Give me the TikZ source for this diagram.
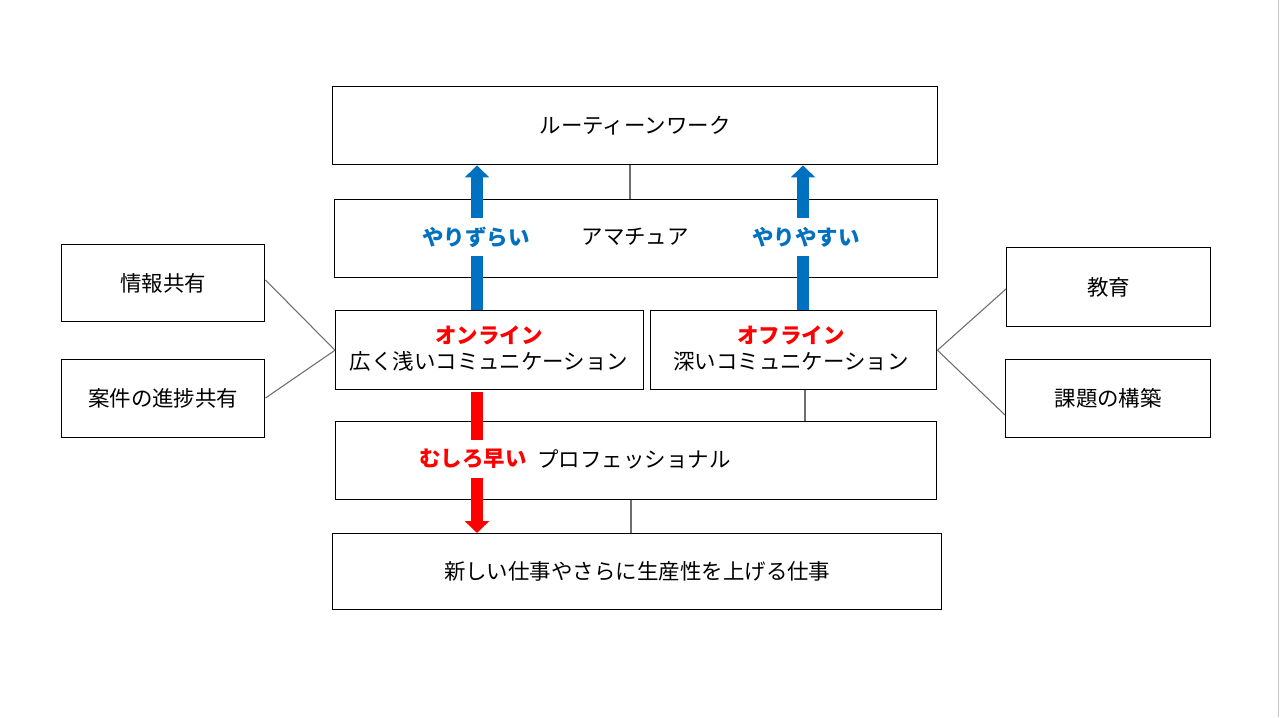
\documentclass[tikz,border=0pt]{standalone}
\usepackage{fontspec}
\setmainfont{Noto Sans CJK JP}
\usetikzlibrary{arrows.meta}
\definecolor{ablue}{HTML}{0070C0}
\definecolor{ared}{HTML}{FF0000}
\definecolor{cgray}{HTML}{6E6E6E}
\tikzset{
  box/.style={draw, line width=1.1pt, inner sep=0pt, anchor=north west, align=center, font=\fontsize{16.1}{19.5}\selectfont},
  link/.style={draw=cgray, line width=0.8pt},
  bluearr/.style={draw=ablue, line width=9pt, -{Triangle[width=18pt,length=9pt]}},
  redarr/.style={draw=ared, line width=9pt, -{Triangle[width=18pt,length=9pt]}},
  blab/.style={fill=white, inner xsep=1pt, inner ysep=6.6pt, text=ablue, font=\fontsize{16.1}{19.5}\selectfont\bfseries},
  rlab/.style={fill=white, inner xsep=1pt, inner ysep=6.6pt, text=ared, font=\fontsize{16.1}{19.5}\selectfont\bfseries},
  plain/.style={inner sep=0pt, font=\fontsize{16.1}{19.5}\selectfont}
}
\begin{document}
\begin{tikzpicture}[x=0.75pt,y=-0.75pt]
\useasboundingbox[fill=white] (0,0) rectangle (1280,717);
\draw[gray!45, line width=1.2pt] (1278.5,0) -- (1278.5,717);
% main column
\node[box, minimum width=605*0.75pt, minimum height=78*0.75pt] (b1) at (332,86) {ルーティーンワーク};
\node[box, minimum width=603*0.75pt, minimum height=78*0.75pt] (b2) at (334,199) {};
\node[box, minimum width=308*0.75pt, minimum height=79*0.75pt] (b3) at (335,310) {};
\node[box, minimum width=286*0.75pt, minimum height=79*0.75pt] (b4) at (650,310) {};
\node[box, minimum width=601*0.75pt, minimum height=78*0.75pt] (b5) at (335,421) {};
\node[box, minimum width=609*0.75pt, minimum height=76*0.75pt] (b6) at (332,533) {新しい仕事やさらに生産性を上げる仕事};
% side boxes
\node[box, minimum width=203*0.75pt, minimum height=77*0.75pt] (l1) at (61,244) {情報共有};
\node[box, minimum width=203*0.75pt, minimum height=78*0.75pt] (l2) at (61,359) {案件の進捗共有};
\node[box, minimum width=204*0.75pt, minimum height=79*0.75pt] (r1) at (1006,247) {教育};
\node[box, minimum width=205*0.75pt, minimum height=78*0.75pt] (r2) at (1005,359) {課題の構築};
% texts in boxes
\node[plain] (t2) at (635,237) {アマチュア};
\node[plain, text=ared, font=\fontsize{16.1}{19.5}\selectfont\bfseries] (t3a) at (489,335) {オンライン};
\node[plain] (t3b) at (489,361) {広く浅いコミュニケーション};
\node[plain, text=ared, font=\fontsize{16.1}{19.5}\selectfont\bfseries] (t4a) at (791,335) {オフライン};
\node[plain] (t4b) at (791,361) {深いコミュニケーション};
\node[plain] (t5) at (634,459) {プロフェッショナル};
% gray connectors
\draw[link] (b1.south -| 630,0) -- (b2.north -| 630,0);
\draw[link] (b4.south -| 805,0) -- (b5.north -| 805,0);
\draw[link] (b5.south -| 631,0) -- (b6.north -| 631,0);
\draw[link] (l1.east |- 0,280) -- (b3.west);
\draw[link] (l2.east |- 0,398) -- (b3.west);
\draw[link] (b4.east) -- (r1.west |- 0,289);
\draw[link] (b4.east) -- (r2.west |- 0,415);
% arrows
\draw[bluearr] (b3.north -| 477,0) -- (b1.south -| 477,0);
\draw[bluearr] (b4.north -| 803,0) -- (b1.south -| 803,0);
\draw[redarr] (b3.south -| 477,0) ++(0,2) -- (b6.north -| 477,0);
\node[blab] (la1) at (476,237) {やりずらい};
\node[blab] (la2) at (806,237) {やりやすい};
\node[rlab] (la3) at (473,459) {むしろ早い};
\end{tikzpicture}
\end{document}
